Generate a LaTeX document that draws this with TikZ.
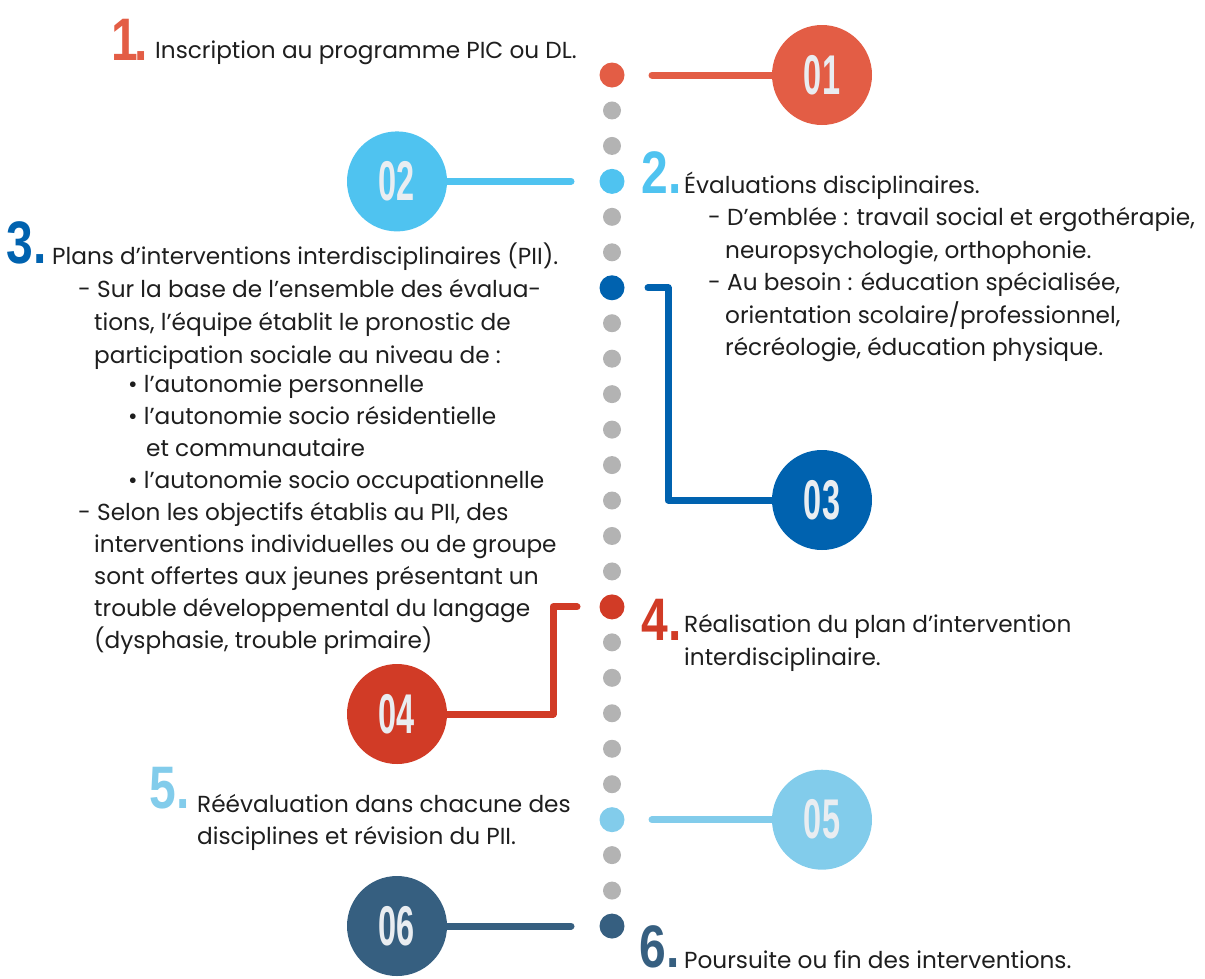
\documentclass[tikz,border=0pt]{standalone}
\usepackage{fontspec}
\setmainfont{Poppins}
\newfontfamily\bignum[FakeStretch=0.8]{Liberation Sans}
\newfontfamily\cirnum[FakeStretch=0.58]{Liberation Sans}
\definecolor{cA}{HTML}{E35D45}
\definecolor{cB}{HTML}{4FC3F0}
\definecolor{cC}{HTML}{0062AF}
\definecolor{cD}{HTML}{D13B26}
\definecolor{cE}{HTML}{82CCEB}
\definecolor{cF}{HTML}{365F80}
\definecolor{dotgray}{HTML}{B3B3B3}
\definecolor{txtc}{HTML}{1E1E1E}
\definecolor{numtxt}{HTML}{E9EDF1}
\begin{document}
\begin{tikzpicture}[x=1pt,y=-1pt,
  tx/.style={anchor=base west, inner sep=0pt, text=txtc, font=\fontsize{23.2}{28}\selectfont},
  num/.style={anchor=base east, inner sep=0pt, font=\bignum\bfseries\fontsize{60}{60}\selectfont},
  dotg/.style={circle, fill=dotgray, minimum size=18pt, inner sep=0pt},
  dotc/.style={circle, fill=#1, minimum size=25pt, inner sep=0pt},
  bigc/.style={circle, fill=#1, minimum size=100pt, inner sep=0pt, text=numtxt, font=\cirnum\bfseries\fontsize{56}{56}\selectfont},
  conn/.style={draw=#1, line width=7pt, line cap=round, line join=round}
]
\useasboundingbox (0,0) rectangle (1205,978);

% dotted column
\foreach \i in {0,...,24}{
  \node[dotg] (d\i) at (612, 75+\i*35.46) {};
}
\node[dotc=cA] (k1) at (d0) {};
\node[dotc=cB] (k2) at (d3) {};
\node[dotc=cC] (k3) at (d6) {};
\node[dotc=cD] (k4) at (d15) {};
\node[dotc=cE] (k5) at (d21) {};
\node[dotc=cF] (k6) at (d24) {};

% connector free ends
\coordinate (e1) at (652,75);
\coordinate (e2) at (571,181.4);
\coordinate (e3) at (648,287.8);
\coordinate (e4) at (577,606.9);
\coordinate (e5) at (652,819.7);
\coordinate (e6) at (571,926);

% connectors (drawn before circles)
\draw[conn=cA] (e1) -- (822,75);
\draw[conn=cB] (e2) -- (397,181.4);
\draw[conn=cC] (e3) -- (668,287.8) -- (668,500) -- (822,500);
\draw[conn=cD] (e4) -- (553,606.9) -- (553,714) -- (397,714);
\draw[conn=cE] (e5) -- (822,819.7);
\draw[conn=cF] (e6) -- (397,926);

% big circles
\node[bigc=cA] (C1) at (822,75) {01};
\node[bigc=cB] (C2) at (397,181.4) {02};
\node[bigc=cC] (C3) at (822,500) {03};
\node[bigc=cD] (C4) at (397,714) {04};
\node[bigc=cE] (C5) at (822,819.7) {05};
\node[bigc=cF] (C6) at (397,926) {06};

% step 1
\node[num, text=cA] (n1) at (148,60) {1\kern-4pt.};
\node[tx] (t1) at (155,58) {Inscription au programme PIC ou DL.};

% step 2
\node[num, text=cB] (n2) at (682,193) {2.};
\node[tx] (t2a) at (684,193) {Évaluations disciplinaires.};
\node[tx] (t2b) at (708,225) {- D’emblée : travail social et ergothérapie,};
\node[tx] (t2c) at (725,258) {neuropsychologie, orthophonie.};
\node[tx] (t2d) at (708,290) {- Au besoin : éducation spécialisée,};
\node[tx] (t2e) at (725,323) {orientation scolaire/professionnel,};
\node[tx] (t2f) at (725,355) {récréologie, éducation physique.};

% step 3
\node[num, text=cC] (n3) at (47,263) {3.};
\node[tx] (t3a) at (52,264) {Plans d’interventions interdisciplinaires (PII).};
\node[tx] (t3b) at (78,297) {- Sur la base de l’ensemble des évalua-};
\node[tx] (t3c) at (94,330) {tions, l’équipe établit le pronostic de};
\node[tx] (t3d) at (94,363) {participation sociale au niveau de :};
\node[tx] (t3e) at (128,392) {• l’autonomie personnelle};
\node[tx] (t3f) at (128,424) {• l’autonomie socio résidentielle};
\node[tx] (t3g) at (146,456) {et communautaire};
\node[tx] (t3h) at (128,488) {• l’autonomie socio occupationnelle};
\node[tx] (t3i) at (78,520) {- Selon les objectifs établis au PII, des};
\node[tx] (t3j) at (94,552) {interventions individuelles ou de groupe};
\node[tx] (t3k) at (94,584) {sont offertes aux jeunes présentant un};
\node[tx] (t3l) at (94,616) {trouble développemental du langage};
\node[tx] (t3m) at (94,648) {(dysphasie, trouble primaire)};

% step 4
\node[num, text=cD] (n4) at (682,640) {4.};
\node[tx] (t4a) at (684,632) {Réalisation du plan d’intervention};
\node[tx] (t4b) at (684,665) {interdisciplinaire.};

% step 5
\node[num, text=cE] (n5) at (190,808) {5.};
\node[tx] (t5a) at (197,812) {Réévaluation dans chacune des};
\node[tx] (t5b) at (197,844) {disciplines et révision du PII.};

% step 6
\node[num, text=cF] (n6) at (680,967) {6.};
\node[tx] (t6a) at (684,968) {Poursuite ou fin des interventions.};
\end{tikzpicture}
\end{document}
